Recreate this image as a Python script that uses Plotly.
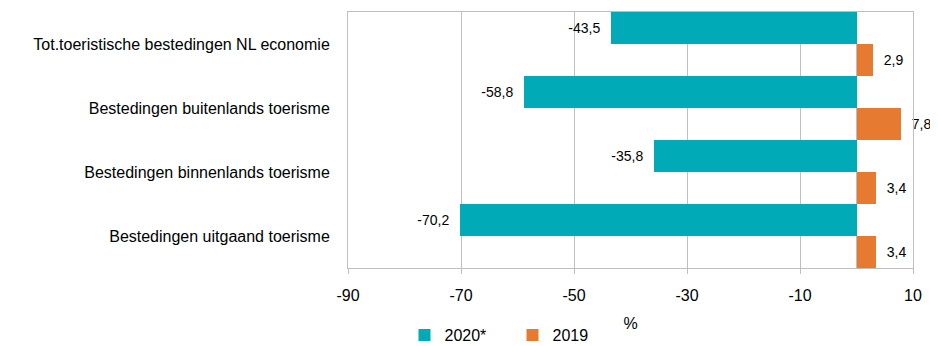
import plotly.graph_objects as go

categories = [
    "Tot.toeristische bestedingen NL economie",
    "Bestedingen buitenlands toerisme",
    "Bestedingen binnenlands toerisme",
    "Bestedingen uitgaand toerisme",
]
values_2020 = [-43.5, -58.8, -35.8, -70.2]
values_2019 = [2.9, 7.8, 3.4, 3.4]
x_ticks = [-90, -70, -50, -30, -10, 10]


def fmt(v, left):
    s = f"{v:.1f}".replace(".", ",")
    return s + "  " if left else "  " + s


font = "Liberation Sans, Arial, sans-serif"

fig = go.Figure()
fig.add_trace(go.Bar(
    name="2020*", y=categories, x=values_2020, orientation="h",
    marker=dict(color="#00AAB7", line=dict(width=0)),
    text=[fmt(v, True) for v in values_2020], textposition="outside",
    textfont=dict(size=14, color="#000000", family=font),
    cliponaxis=False,
))
fig.add_trace(go.Bar(
    name="2019", y=categories, x=values_2019, orientation="h",
    marker=dict(color="#E67A30", line=dict(width=0)),
    text=[fmt(v, False) for v in values_2019], textposition="outside",
    textfont=dict(size=14, color="#000000", family=font),
    cliponaxis=False,
))

fig.update_layout(
    width=930, height=338,
    margin=dict(l=340, r=25, t=4, b=78, autoexpand=False),
    barmode="group", bargap=0, bargroupgap=0,
    plot_bgcolor="white", paper_bgcolor="white",
    font=dict(family=font, size=16, color="#000000"),
    showlegend=True,
    legend=dict(
        orientation="h", x=0.1, xanchor="left", y=-0.262, yanchor="middle",
        font=dict(size=16), entrywidth=63, entrywidthmode="pixels",
        itemwidth=30, tracegroupgap=0,
    ),
    xaxis=dict(
        range=[-90, 10], tickvals=x_ticks, ticktext=[str(t) for t in x_ticks],
        automargin=False,
        showgrid=True, gridcolor="#BFBFBF", gridwidth=1,
        zeroline=True, zerolinecolor="#BFBFBF", zerolinewidth=1,
        showline=True, linecolor="#BFBFBF", linewidth=1, mirror=True,
        ticks="outside", ticklen=5, tickcolor="#BFBFBF",
        ticklabelstandoff=8,
        tickfont=dict(size=16),
        title=dict(text="%", font=dict(size=16), standoff=14),
    ),
    yaxis=dict(
        autorange="reversed", showgrid=False, automargin=False,
        showline=True, linecolor="#BFBFBF", linewidth=1, mirror=True,
        ticks="", ticklabelstandoff=14, tickfont=dict(size=16),
    ),
)

fig.write_html("out.html")
